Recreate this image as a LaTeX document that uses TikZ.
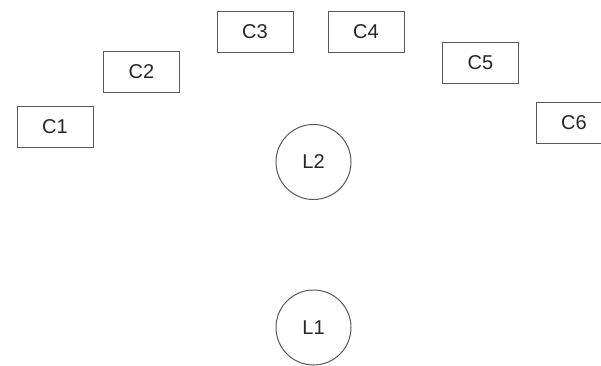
\documentclass[tikz,border=0pt]{standalone}
\usepackage{fontspec}
\setmainfont{Liberation Sans}
\begin{document}
\begin{tikzpicture}[x=1pt,y=-1pt,
  every node/.style={font=\fontsize{20}{23}\selectfont, text=black!85},
  cbox/.style={draw=black!65, line width=1pt, minimum width=76pt, minimum height=41pt, inner sep=0pt},
  lcirc/.style={draw=black!65, line width=1pt, circle, minimum size=75pt, inner sep=0pt}]
\useasboundingbox (0,0) rectangle (601,365);
\node[cbox] (c1) at (55,127) {C1};
\node[cbox] (c2) at (141.5,71.5) {C2};
\node[cbox] (c3) at (255,31.5) {C3};
\node[cbox] (c4) at (366,31.5) {C4};
\node[cbox] (c5) at (480.5,63) {C5};
\node[cbox] (c6) at (574,123) {C6};
\node[lcirc] (l2) at (313.5,162) {L2};
\node[lcirc] (l1) at (313.5,327.5) {L1};
\end{tikzpicture}
\end{document}
